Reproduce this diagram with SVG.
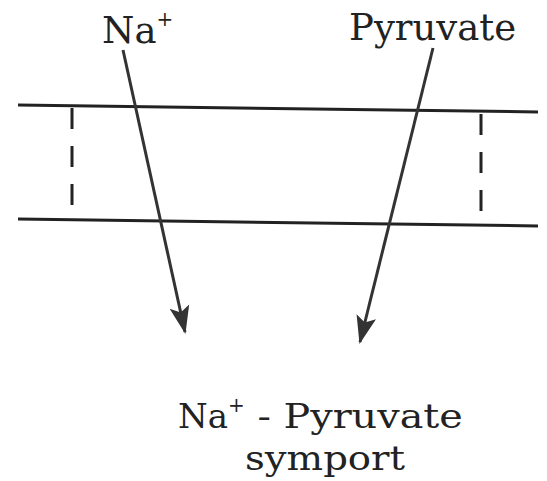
<svg xmlns="http://www.w3.org/2000/svg" width="547" height="481" viewBox="0 0 547 481">
<style>
.t{font-family:"DejaVu Serif","Liberation Serif",serif;font-size:37px;fill:#222}
.b{font-size:34px}
.sup{font-size:20px}
.mem{stroke:#222;stroke-width:3;fill:none}
.dash{stroke:#222;stroke-width:3;stroke-dasharray:21 17;fill:none}
.arr{stroke:#333;stroke-width:3;fill:none;marker-end:url(#ah)}
</style>
<defs>
<marker id="ah" markerUnits="userSpaceOnUse" markerWidth="30" markerHeight="24" refX="26" refY="10" orient="auto" viewBox="0 0 30 20">
<path d="M0,0 L28,10 L0,20 L6,10 Z" fill="#333"/>
</marker>
</defs>
<g id="membrane">
<line class="mem" x1="18" y1="105" x2="538" y2="112"/>
<line class="mem" x1="18" y1="219" x2="538" y2="226"/>
<line class="dash" x1="72" y1="108" x2="72" y2="207"/>
<line class="dash" x1="481" y1="114" x2="481" y2="216"/>
</g>
<g id="connectors">
<line class="arr" x1="123" y1="50" x2="185" y2="332"/>
<line class="arr" x1="433" y1="48" x2="360" y2="342"/>
</g>
<g id="na"><text class="t" x="102" y="43">Na<tspan class="sup" dy="-17">+</tspan></text></g>
<g id="pyruvate"><text class="t" x="349" y="40">Pyruvate</text></g>
<g id="label">
<text class="t b" x="178" y="428">Na<tspan class="sup" dy="-16">+</tspan><tspan dy="16" textLength="218" lengthAdjust="spacingAndGlyphs"> - Pyruvate</tspan></text>
<text class="t b" x="325" y="470" text-anchor="middle" textLength="160" lengthAdjust="spacingAndGlyphs">symport</text>
</g>
</svg>
